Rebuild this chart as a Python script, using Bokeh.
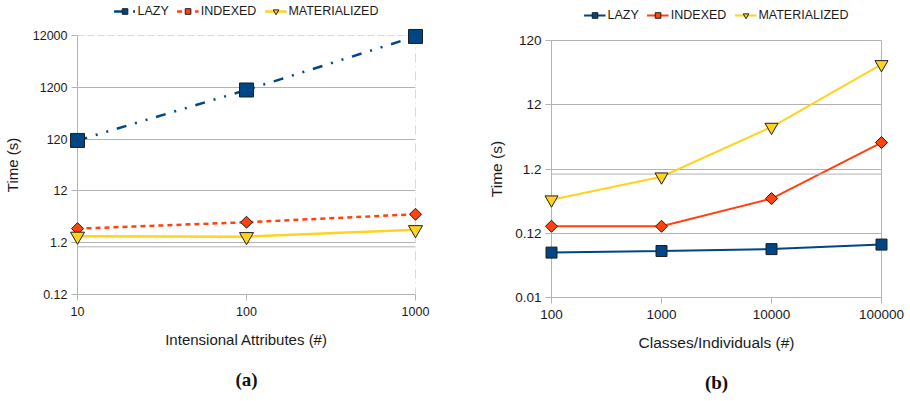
import math
from bokeh.plotting import figure
from bokeh.models import FixedTicker, Legend, LegendItem, Span, LogAxis, Range1d
from bokeh.layouts import row, column
from bokeh.embed import file_html
from bokeh.resources import INLINE

# ---------------- data: chart (a) ----------------
a_series = ["LAZY", "INDEXED", "MATERIALIZED"]
a_x = [10, 100, 1000]
a_lazy = [113, 1065, 11500]
a_indexed = [2.24, 2.98, 4.25]
a_materialized = [1.60, 1.57, 2.14]
a_x_ticks = [10, 100, 1000]
a_x_tick_labels = ["10", "100", "1000"]
a_y_ticks = [0.12, 1.2, 12, 120, 1200, 12000]
a_y_tick_labels = ["0.12", "1.2", "12", "120", "1200", "12000"]
a_x_title = "Intensional Attributes (#)"
a_caption = "(a)"

# ---------------- data: chart (b) ----------------
b_x = [100, 1000, 10000, 100000]
b_lazy = [0.060, 0.0635, 0.068, 0.080]
b_indexed = [0.154, 0.154, 0.416, 3.1]
b_materialized = [0.40, 0.91, 5.4, 51]
b_x_ticks = [100, 1000, 10000, 100000]
b_x_tick_labels = ["100", "1000", "10000", "100000"]
b_y_ticks = [0.012, 0.12, 1.2, 12, 120]
b_y_tick_labels = ["0.01", "0.12", "1.2", "12", "120"]
b_x_title = "Classes/Individuals (#)"
b_caption = "(b)"

y_title = "Time (s)"

BLUE = "#004586"
RED = "#ff420e"
YELLOW = "#ffd320"
GRID = "#b3b3b3"
EDGE = "#1e1e1e"
FONT = "Liberation Sans"


def make_fig(width, height, xr, yr, xt, xtl, yt, ytl, xtitle, mb, tick_fs, title_fs, ylab_off):
    p = figure(width=width, height=height, x_axis_type="log", y_axis_type="log",
               x_range=xr, y_range=yr, output_backend="svg", toolbar_location=None,
               title=None,
               min_border_left=mb[0], min_border_right=mb[1],
               min_border_top=mb[2], min_border_bottom=mb[3])
    p.xaxis.ticker = FixedTicker(ticks=xt, minor_ticks=[])
    p.yaxis.ticker = FixedTicker(ticks=yt, minor_ticks=[])
    p.xaxis.major_label_overrides = {v: s for v, s in zip(xt, xtl)}
    p.yaxis.major_label_overrides = {v: s for v, s in zip(yt, ytl)}
    for ax in (p.xaxis, p.yaxis):
        ax.axis_line_color = GRID
        ax.major_tick_line_color = GRID
        ax.major_tick_out = 6
        ax.major_tick_in = 0
        ax.minor_tick_line_color = None
        ax.major_label_text_font = FONT
        ax.major_label_text_font_size = tick_fs
        ax.major_label_text_color = "#1a1a1a"
        ax.axis_label_text_font = FONT
        ax.axis_label_text_font_size = title_fs
        ax.axis_label_text_font_style = "normal"
        ax.axis_label_text_color = "#1a1a1a"
    p.xaxis.axis_label = xtitle
    p.yaxis.axis_label = y_title
    p.xaxis.major_label_standoff = 6
    p.yaxis.major_label_standoff = 4
    p.xaxis.axis_label_standoff = 12
    p.yaxis.axis_label_standoff = ylab_off
    p.xgrid.grid_line_color = None
    p.ygrid.ticker = FixedTicker(ticks=yt, minor_ticks=[])
    p.ygrid.grid_line_color = GRID
    p.ygrid.grid_line_width = 1
    p.add_layout(Span(location=1, dimension="width", line_color=GRID, line_width=1))
    p.background_fill_color = "white"
    return p


def series(p, x, y, color, marker, size, lw, dash, angle=0.0, level="overlay"):
    ln = p.line(x, y, line_color=color, line_width=lw, line_dash=dash)
    sc = p.scatter(x, y, marker=marker, size=size, angle=angle, fill_color=color,
                   line_color=EDGE, line_width=1, level=level)
    return [ln, sc]


def legend_fig(width, height, mb, names, xs, ys_list, styles, fs):
    # a strip holding only the legend; its series lie outside its (unit) ranges
    lf = figure(width=width, height=height, output_backend="svg", toolbar_location=None,
                title=None, x_axis_location=None, y_axis_location=None,
                x_range=Range1d(-2, -1), y_range=Range1d(-2, -1),
                min_border_left=mb[0], min_border_right=mb[1],
                min_border_top=0, min_border_bottom=0)
    lf.outline_line_color = None
    lf.grid.grid_line_color = None
    rends = [series(lf, xs, ys, *st, level="glyph") for ys, st in zip(ys_list, styles)]
    items = [LegendItem(label=n, renderers=r) for n, r in zip(names, rends)]
    lg = Legend(items=items, orientation="horizontal", location="center",
                padding=0, margin=0, spacing=8, glyph_width=22, glyph_height=14,
                label_standoff=2, label_text_font=FONT, label_text_font_size=fs,
                label_text_color="#1a1a1a", background_fill_alpha=0,
                border_line_alpha=0, label_height=14)
    lf.add_layout(lg, "center")
    return lf


def add_caption(p, text, standoff):
    cap = LogAxis(axis_label=text, ticker=FixedTicker(ticks=[], minor_ticks=[]),
                  axis_line_color=None, major_tick_line_color=None,
                  minor_tick_line_color=None, major_tick_out=0, major_tick_in=0,
                  major_label_standoff=0, major_label_text_font_size="0px",
                  axis_label_standoff=standoff, axis_label_text_font="Liberation Serif",
                  axis_label_text_font_style="bold", axis_label_text_font_size="19px",
                  axis_label_text_color="#111111")
    p.add_layout(cap, "below")


a_styles = [(BLUE, "square", 14, 2.5, "10 9 2 9 2 9"),
            (RED, "square", 8.5, 2.5, "5 4", math.pi / 4),
            (YELLOW, "inverted_triangle", 14, 2.5, "solid")]
b_styles = [(BLUE, "square", 11, 2, "solid"),
            (RED, "square", 8.5, 2, "solid", math.pi / 4),
            (YELLOW, "inverted_triangle", 13, 2, "solid")]

# ---------------- chart (a) ----------------
p1 = make_fig(450, 379, (10, 1000), (0.12, 12000), a_x_ticks, a_x_tick_labels,
              a_y_ticks, a_y_tick_labels, a_x_title, (77, 35, 13, 107),
              "12.5px", "15px", 9)
p1.ygrid.ticker = FixedTicker(ticks=a_y_ticks[:-1], minor_ticks=[])
p1.outline_line_color = None
p1.add_layout(Span(location=a_y_ticks[-1], dimension="width", line_color=GRID,
                   line_width=1, line_dash="7 3"))
p1.add_layout(Span(location=a_x_ticks[-1], dimension="height", line_color=GRID,
                   line_width=1, line_dash="9 4 1 4"))
series(p1, a_x, a_lazy, *a_styles[0])
series(p1, a_x, a_indexed, *a_styles[1])
series(p1, a_x, a_materialized, *a_styles[2])
add_caption(p1, a_caption, 18)
lf1 = legend_fig(450, 22, (77, 35), a_series, a_x,
                 [a_lazy, a_indexed, a_materialized], a_styles, "12.5px")

# ---------------- chart (b) ----------------
p2 = make_fig(460, 371, (100, 100000), (0.012, 120), b_x_ticks, b_x_tick_labels,
              b_y_ticks, b_y_tick_labels, b_x_title, (101, 29, 10, 104),
              "13.5px", "15.5px", 7)
p2.outline_line_color = GRID
series(p2, b_x, b_lazy, *b_styles[0])
series(p2, b_x, b_indexed, *b_styles[1])
series(p2, b_x, b_materialized, *b_styles[2])
add_caption(p2, b_caption, 18)
lf2 = legend_fig(460, 30, (101, 29), a_series, b_x,
                 [b_lazy, b_indexed, b_materialized], b_styles, "12.5px")

layout = row(column(lf1, p1), column(lf2, p2))
open("out.html", "w").write(file_html(layout, INLINE))
